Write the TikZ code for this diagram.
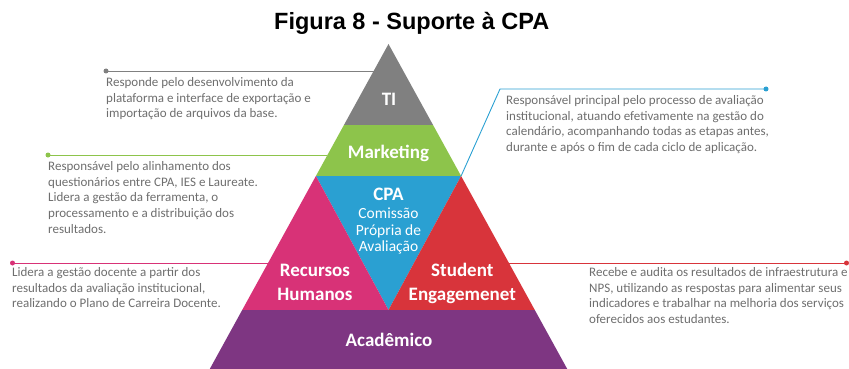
\documentclass[tikz,border=0pt]{standalone}
\usepackage{fontspec}
\setmainfont{Carlito}
\newfontfamily\titlefont{Liberation Sans}
\definecolor{tigray}{HTML}{808080}
\definecolor{mkgreen}{HTML}{8DC44B}
\definecolor{cpablue}{HTML}{2AA0D2}
\definecolor{rhpink}{HTML}{D83277}
\definecolor{sered}{HTML}{D8343B}
\definecolor{acpurple}{HTML}{7E3682}
\definecolor{desctext}{HTML}{6E6E6E}
\begin{document}
\begin{tikzpicture}[x=1pt,y=-1pt,
  lbl/.style={text=white,font=\bfseries\fontsize{19}{22}\selectfont,anchor=base,inner sep=0pt},
  sublbl/.style={text=white,font=\fontsize{15.5}{18}\selectfont,anchor=base,inner sep=0pt},
  desc/.style={text=desctext,font=\fontsize{13}{15.8}\selectfont,align=left,anchor=north west,inner sep=0pt},
  conn/.style={line width=0.9pt},
  enddot/.style={circle,inner sep=0pt,minimum size=5pt}]
\useasboundingbox (0,0) rectangle (849,369);
% pyramid geometry
\coordinate (apex) at (388.5,44);
\coordinate (tiL) at (343.95,125);
\coordinate (tiR) at (433.05,125);
\coordinate (mkL) at (315.9,176);
\coordinate (mkR) at (461.1,176);
\coordinate (baseL) at (242.2,310);
\coordinate (baseR) at (534.8,310);
\coordinate (cpaB) at (388.5,310);
\coordinate (botL) at (209.75,369);
\coordinate (botR) at (567.25,369);
\fill[tigray] (apex)--(tiL)--(tiR)--cycle;
\fill[mkgreen] (tiL)--(mkL)--(mkR)--(tiR)--cycle;
\fill[cpablue] (mkL)--(mkR)--(cpaB)--cycle;
\fill[rhpink] (mkL)--(baseL)--(cpaB)--cycle;
\fill[sered] (mkR)--(baseR)--(cpaB)--cycle;
\fill[acpurple] (baseL)--(botL)--(botR)--(baseR)--cycle;
% title
\node[font=\titlefont\bfseries\fontsize{23.5}{28}\selectfont,anchor=base,inner sep=0pt] (title) at (411.7,30) {Figura 8 - Suporte à CPA};
% labels
\node[lbl] (ti) at (389,105) {TI};
\node[lbl] (mk) at (388.5,158) {Marketing};
\node[lbl] (cpa) at (388.5,200) {CPA};
\node[sublbl] (cpa1) at (388.5,218.3) {Comissão};
\node[sublbl] (cpa2) at (388.5,235) {Própria de};
\node[sublbl] (cpa3) at (388.5,251) {Avaliação};
\node[lbl] (rh1) at (315,276.7) {Recursos};
\node[lbl] (rh2) at (315,300.7) {Humanos};
\node[lbl] (se1) at (462.3,276.7) {Student};
\node[lbl] (se2) at (462.3,300.7) {Engagemenet};
\node[lbl] (ac) at (389,346) {Acadêmico};
% connectors
\coordinate (tiE) at (373.65,71);
\node[enddot,fill=tigray] (tiD) at (106,71) {};
\draw[conn,tigray] (tiE) -- (tiD.center);
\coordinate (mkE) at (327.45,155);
\node[enddot,fill=mkgreen] (mkD) at (48,155) {};
\draw[conn,mkgreen] (mkE) -- (mkD.center);
\coordinate (cpaK) at (500,89);
\node[enddot,fill=cpablue] (cpaD) at (766,89) {};
\draw[conn,cpablue] (mkR) -- (cpaK) -- (cpaD.center);
\coordinate (rhE) at (268.05,263);
\node[enddot,fill=rhpink] (rhD) at (12.5,263) {};
\draw[conn,rhpink] (rhE) -- (rhD.center);
\coordinate (seE) at (508.95,263);
\node[enddot,fill=sered] (seD) at (846.5,263) {};
\draw[conn,sered] (seE) -- (seD.center);
% descriptions
\node[desc] (tiT) at (106,77) {Responde pelo desenvolvimento da\\plataforma e interface de exportação e\\importação de arquivos da base.};
\node[desc] (mkT) at (48,161) {Responsável pelo alinhamento dos\\questionários entre CPA, IES e Laureate.\\Lidera a gestão da ferramenta, o\\processamento e a distribuição dos\\resultados.};
\node[desc] (cpaT) at (506,95) {Responsável principal pelo processo de avaliação\\institucional, atuando efetivamente na gestão do\\calendário, acompanhando todas as etapas antes,\\durante e após o fim de cada ciclo de aplicação.};
\node[desc] (rhT) at (12,267) {Lidera a gestão docente a partir dos\\resultados da avaliação institucional,\\realizando o Plano de Carreira Docente.};
\node[desc] (seT) at (589,267) {Recebe e audita os resultados de infraestrutura e\\NPS, utilizando as respostas para alimentar seus\\indicadores e trabalhar na melhoria dos serviços\\oferecidos aos estudantes.};
\end{tikzpicture}
\end{document}
